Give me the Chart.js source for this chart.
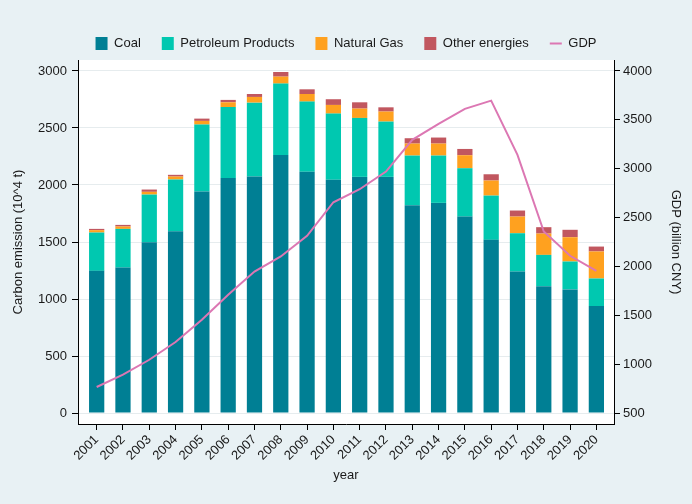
<!DOCTYPE html>
<html lang="en">
<head>
    <meta charset="UTF-8">
    <title>Carbon emission and GDP</title>
    <script src="https://cdn.jsdelivr.net/npm/chart.js"></script>
    <style>
        html, body { margin: 0; padding: 0; background: #e8f1f4; }
        .chart-box { width: 692px; height: 504px; }
    </style>
</head>
<body>
    <div class="chart-box">
        <canvas id="myChart" width="692" height="504"></canvas>
    </div>

    <script>
        // data
        const years = [2001, 2002, 2003, 2004, 2005, 2006, 2007, 2008, 2009, 2010,
                       2011, 2012, 2013, 2014, 2015, 2016, 2017, 2018, 2019, 2020];
        const coal = [1247, 1276, 1498, 1595, 1942, 2062, 2074, 2264, 2115, 2045,
                      2071, 2071, 1823, 1843, 1723, 1519, 1241, 1113, 1084, 938];
        const petroleum = [336, 339, 418, 453, 588, 622, 648, 625, 616, 581,
                           517, 485, 435, 415, 424, 388, 336, 274, 245, 242];
        const naturalGas = [21, 21, 24, 26, 32, 41, 50, 61, 67, 76,
                            82, 88, 105, 105, 114, 132, 146, 187, 213, 237];
        const otherEnergies = [11, 14, 20, 15, 20, 21, 26, 41, 41, 50,
                               55, 37, 47, 53, 55, 55, 53, 56, 65, 43];
        const gdp = [766, 892, 1045, 1226, 1454, 1710, 1948, 2102, 2313, 2657,
                     2790, 2971, 3295, 3458, 3612, 3697, 3141, 2357, 2109, 1955];

        // tick labels
        const emissionTicks = [0, 500, 1000, 1500, 2000, 2500, 3000];
        const gdpTicks = [500, 1000, 1500, 2000, 2500, 3000, 3500, 4000];

        Chart.defaults.font.family = '"Liberation Sans", Arial, sans-serif';
        Chart.defaults.font.size = 13;
        Chart.defaults.color = '#1a1a1a';

        // white plot region on the tinted page
        const plotBg = {
            id: 'plotBg',
            beforeDraw(chart) {
                const a = chart.chartArea;
                chart.ctx.save();
                chart.ctx.fillStyle = '#ffffff';
                chart.ctx.fillRect(a.left, a.top, a.right - a.left, a.bottom - a.top);
                chart.ctx.restore();
            }
        };

        const barSet = (label, data, color) => ({
            type: 'bar',
            label: label,
            data: data,
            backgroundColor: color,
            borderWidth: 0,
            yAxisID: 'y',
            order: 1,
            categoryPercentage: 1,
            barPercentage: 0.58
        });

        const ctx = document.getElementById('myChart').getContext('2d');
        const chart = new Chart(ctx, {
            type: 'bar',
            data: {
                labels: years,
                datasets: [
                    barSet('Coal', coal, '#007f94'),
                    barSet('Petroleum Products', petroleum, '#00c8b0'),
                    barSet('Natural Gas', naturalGas, '#ffa11f'),
                    barSet('Other energies', otherEnergies, '#c1575f'),
                    {
                        type: 'line',
                        label: 'GDP',
                        data: gdp,
                        borderColor: '#dc77b3',
                        backgroundColor: '#dc77b3',
                        borderWidth: 2,
                        pointRadius: 0,
                        tension: 0,
                        yAxisID: 'y2',
                        order: 0
                    }
                ]
            },
            plugins: [plotBg],
            options: {
                responsive: false,
                animation: false,
                layout: { padding: { top: 16 } },
                plugins: {
                    tooltip: { enabled: false },
                    legend: {
                        position: 'top',
                        labels: {
                            usePointStyle: true,
                            pointStyleWidth: 12,
                            boxHeight: 13,
                            padding: 21,
                            sort: (a, b) => a.datasetIndex - b.datasetIndex,
                            generateLabels(chart) {
                                const items = Chart.defaults.plugins.legend.labels.generateLabels(chart);
                                items.forEach(it => {
                                    it.pointStyle = it.datasetIndex === 4 ? 'line' : 'rect';
                                });
                                return items;
                            }
                        }
                    }
                },
                scales: {
                    x: {
                        type: 'linear',
                        stacked: true,
                        offset: false,
                        min: 2000.29,
                        max: 2020.67,
                        afterFit(scale) { scale.height = 80; },
                        afterBuildTicks(scale) { scale.ticks = years.map(v => ({ value: v })); },
                        grid: { offset: false, drawOnChartArea: false, tickColor: '#000', tickLength: 6 },
                        border: { color: '#000', width: 1 },
                        ticks: {
                            autoSkip: false,
                            maxRotation: 45,
                            minRotation: 45,
                            padding: 2,
                            callback: v => String(v)
                        },
                        title: { display: true, text: 'year', padding: { top: 0, bottom: 21 } }
                    },
                    y: {
                        position: 'left',
                        stacked: true,
                        min: -96,
                        max: 3096,
                        afterFit(scale) { scale.width = 78; },
                        afterBuildTicks(scale) { scale.ticks = emissionTicks.map(v => ({ value: v })); },
                        grid: { color: '#e6ecee', tickColor: '#000', tickLength: 6 },
                        border: { color: '#000', width: 1 },
                        ticks: { autoSkip: false, padding: 5, callback: v => String(v) },
                        title: { display: true, text: 'Carbon emission (10^4 t)', padding: { top: 11, bottom: 0 } }
                    },
                    y2: {
                        position: 'right',
                        min: 387.5,
                        max: 4112.5,
                        afterFit(scale) { scale.width = 78; },
                        afterBuildTicks(scale) { scale.ticks = gdpTicks.map(v => ({ value: v })); },
                        grid: { drawOnChartArea: false, tickColor: '#000', tickLength: 6 },
                        border: { color: '#000', width: 1 },
                        ticks: { autoSkip: false, padding: 3, callback: v => String(v) },
                        title: { display: true, text: 'GDP (billion CNY)', padding: { top: 9, bottom: 0 } }
                    }
                }
            }
        });
    </script>
</body>
</html>
